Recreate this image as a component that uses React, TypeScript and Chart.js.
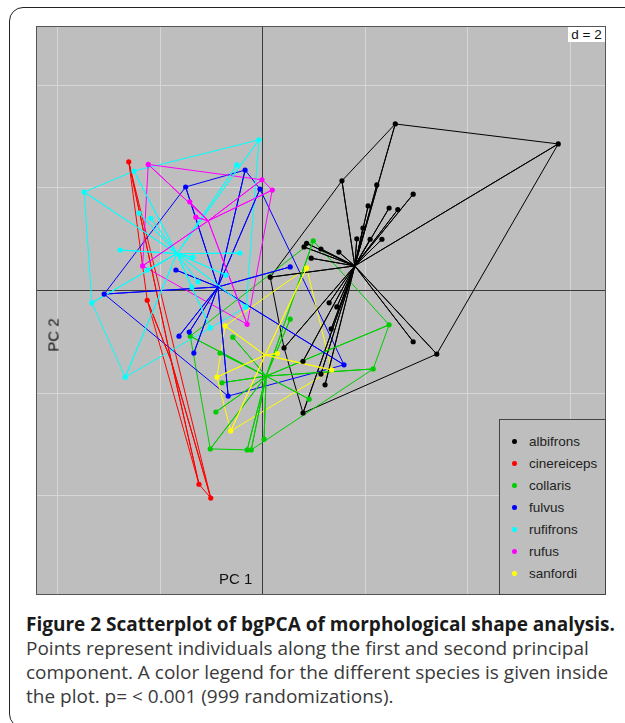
import React, { useEffect, useRef } from "react";
import { Chart, registerables } from "chart.js";

Chart.register(...registerables);

// ---- Data (PC1, PC2 scores) ----
const species = ["albifrons", "cinereiceps", "collaris", "fulvus", "rufifrons", "rufus", "sanfordi"];
const speciesColors = ["#000000", "#ff0000", "#00cd00", "#0000ff", "#00ffff", "#ff00ff", "#ffff00"];

const albifronsX = [2.60, 5.78, 1.56, 2.24, 2.95, 2.07, 2.48, 2.65, 1.97, 1.85, 2.11, 2.34, 1.50, 1.15, 0.87, 0.82, 0.96, 0.16, 1.31, 1.46, 1.35, 2.95, 3.41, 0.43, 0.80, 1.15, 1.23, 0.80];
const albifronsY = [3.24, 2.85, 2.13, 2.05, 1.87, 1.64, 1.60, 1.57, 1.21, 1.00, 0.99, 0.99, 0.74, 0.80, 0.91, 0.84, 0.62, 0.25, -0.25, -0.33, -0.76, -1.01, -1.25, -1.13, -1.39, -1.64, -1.85, -2.40];

const cinereicepsX = [-2.60, -2.24, -1.23, -1.00];
const cinereicepsY = [2.50, -0.20, -3.79, -4.06];

const collarisX = [1.00, 0.55, -0.57, -1.40, -0.82, -0.78, -0.90, -1.01, -0.29, -0.21, 0.04, 0.92, 2.17, 2.48];
const collarisY = [0.96, -0.57, -0.92, -0.90, -1.23, -1.81, -2.38, -3.10, -3.12, -3.12, -2.91, -2.13, -1.54, -0.68];

const fulvusX = [-0.33, -1.49, -0.04, -1.68, 0.55, -3.08, -1.62, -1.42, -1.33, -0.66, 1.60];
const fulvusY = [2.34, 2.01, 1.97, 0.39, 0.45, -0.08, -0.90, -0.82, -1.23, -2.07, -1.46];

const rufifronsX = [-0.06, -0.49, -2.50, -3.47, -2.40, -2.17, -2.77, -1.35, -0.43, -0.70, -1.25, -1.37, -2.24, -3.32, -2.67, -1.01, -0.31];
const rufifronsY = [2.93, 2.44, 2.32, 1.91, 1.50, 1.40, 0.78, 0.64, 0.72, 0.29, 0.16, 0.06, 0.39, -0.25, -1.70, -0.74, -0.33];

const rufusX = [-2.22, 0.00, 0.20, -1.41, -1.29, -2.33, -0.29];
const rufusY = [2.45, 2.15, 1.95, 1.72, 1.42, 0.47, -0.67];

const sanfordiX = [0.87, -0.72, 0.30, -0.88, -0.61, 1.36];
const sanfordiY = [0.43, -0.70, -1.24, -1.70, -2.75, -1.56];

// class centroids (star centres)
const centroidX = [1.81, -1.77, 0.08, -0.86, -1.66, -1.05, 0.06];
const centroidY = [0.47, -1.39, -1.68, 0.06, 0.71, 1.35, -1.27];

// grid (d = 2)
const gridX = [-4, -2, 2, 4, 6];
const gridY = [-4, -2, 2, 4];
const xMin = -4.41;
const xMax = 6.712;
const yMin = -5.951;
const yMax = 5.151;

const speciesX = [albifronsX, cinereicepsX, collarisX, fulvusX, rufifronsX, rufusX, sanfordiX];
const speciesY = [albifronsY, cinereicepsY, collarisY, fulvusY, rufifronsY, rufusY, sanfordiY];

type P = { x: number; y: number };

function convexHull(pts: P[]): P[] {
  const p = pts.slice().sort((a, b) => a.x - b.x || a.y - b.y);
  const cross = (o: P, a: P, b: P) => (a.x - o.x) * (b.y - o.y) - (a.y - o.y) * (b.x - o.x);
  const lower: P[] = [];
  for (const q of p) {
    while (lower.length >= 2 && cross(lower[lower.length - 2], lower[lower.length - 1], q) <= 0) lower.pop();
    lower.push(q);
  }
  const upper: P[] = [];
  for (let i = p.length - 1; i >= 0; i--) {
    const q = p[i];
    while (upper.length >= 2 && cross(upper[upper.length - 2], upper[upper.length - 1], q) <= 0) upper.pop();
    upper.push(q);
  }
  upper.pop();
  lower.pop();
  const h = lower.concat(upper);
  h.push(h[0]);
  return h;
}

const plotBg = "#bebebe";
const gridColor = "#d6d6d6";

const backgroundPlugin = {
  id: "adeBackground",
  beforeDatasetsDraw(chart: any) {
    const { ctx, chartArea, scales } = chart;
    const { left, right, top, bottom } = chartArea;
    ctx.save();
    ctx.fillStyle = plotBg;
    ctx.fillRect(left, top, right - left, bottom - top);
    ctx.lineWidth = 1;
    ctx.strokeStyle = gridColor;
    gridX.forEach((v) => {
      const px = Math.round(scales.x.getPixelForValue(v)) + 0.5;
      ctx.beginPath();
      ctx.moveTo(px, top);
      ctx.lineTo(px, bottom);
      ctx.stroke();
    });
    gridY.forEach((v) => {
      const py = Math.round(scales.y.getPixelForValue(v)) + 0.5;
      ctx.beginPath();
      ctx.moveTo(left, py);
      ctx.lineTo(right, py);
      ctx.stroke();
    });
    ctx.strokeStyle = "#3a3a3a";
    const x0 = Math.round(scales.x.getPixelForValue(0)) + 0.5;
    const y0 = Math.round(scales.y.getPixelForValue(0)) + 0.5;
    ctx.beginPath();
    ctx.moveTo(x0, top);
    ctx.lineTo(x0, bottom);
    ctx.moveTo(left, y0);
    ctx.lineTo(right, y0);
    ctx.stroke();
    ctx.strokeStyle = "#555555";
    ctx.strokeRect(left + 0.5, top + 0.5, right - left - 1, bottom - top - 1);
    ctx.restore();
  },
};

export default function App() {
  const ref = useRef<HTMLCanvasElement>(null);

  useEffect(() => {
    if (!ref.current) return;
    const datasets: any[] = [];
    species.forEach((name, i) => {
      const pts: P[] = speciesX[i].map((x, k) => ({ x, y: speciesY[i][k] }));
      const c = { x: centroidX[i], y: centroidY[i] };
      const star: P[] = [c];
      pts.forEach((p) => {
        star.push(p);
        star.push(c);
      });
      const color = speciesColors[i];
      datasets.push({
        label: name + " hull",
        data: convexHull(pts),
        showLine: true,
        borderColor: color,
        borderWidth: 1,
        pointRadius: 0,
        fill: false,
        tension: 0,
        order: 30 - i,
      });
      datasets.push({
        label: name + " star",
        data: star,
        showLine: true,
        borderColor: color,
        borderWidth: 1,
        pointRadius: 0,
        fill: false,
        tension: 0,
        order: 20 - i,
      });
      datasets.push({
        label: name,
        data: pts,
        showLine: false,
        backgroundColor: color,
        borderColor: color,
        borderWidth: 0,
        pointRadius: 2.6,
        order: 10 - i,
      });
    });

    const chart = new Chart(ref.current, {
      type: "scatter",
      data: { datasets },
      options: {
        responsive: false,
        maintainAspectRatio: false,
        animation: false,
        devicePixelRatio: 1,
        events: [],
        layout: { padding: { left: 36, top: 26, right: 19, bottom: 15 } },
        scales: {
          x: { type: "linear", min: xMin, max: xMax, display: false },
          y: { type: "linear", min: yMin, max: yMax, display: false },
        },
        plugins: {
          legend: { display: false },
          tooltip: { enabled: false },
          title: { display: false },
        },
      },
      plugins: [backgroundPlugin],
    });
    return () => chart.destroy();
  }, []);

  const sans = "'Liberation Sans', Arial, Helvetica, sans-serif";
  const capFont = "'Open Sans', 'Noto Sans', sans-serif";

  return (
    <div style={{ position: "fixed", left: 0, top: 0, width: 625, height: 723, overflow: "hidden", background: "#ffffff" }}>
      <div
        style={{
          position: "absolute",
          left: 9,
          top: 7,
          width: 700,
          height: 721,
          boxSizing: "border-box",
          border: "1.5px solid #222",
          borderRadius: 14,
        }}
      />
      <canvas ref={ref} width={625} height={610} style={{ position: "absolute", left: 0, top: 0, width: 625, height: 610 }} />

      {/* d = 2 label */}
      <div
        style={{
          position: "absolute",
          left: 568,
          top: 27,
          width: 37,
          height: 15,
          background: "#ffffff",
          fontFamily: sans,
          fontSize: 13.5,
          lineHeight: "15px",
          textAlign: "center",
          color: "#111",
        }}
      >
        d = 2
      </div>

      {/* axis names */}
      <div style={{ position: "absolute", left: 219, top: 571, fontFamily: sans, fontSize: 15, lineHeight: "15px", color: "#111", whiteSpace: "nowrap" }}>
        PC 1
      </div>
      <div
        style={{
          position: "absolute",
          left: 53,
          top: 335,
          transform: "translate(-50%, -50%) rotate(-90deg)",
          fontFamily: sans,
          fontSize: 15,
          lineHeight: "15px",
          color: "#111",
          whiteSpace: "nowrap",
        }}
      >
        PC 2
      </div>

      {/* legend */}
      <div
        style={{
          position: "absolute",
          left: 499,
          top: 419,
          width: 107,
          height: 176,
          boxSizing: "border-box",
          border: "1px solid #444",
          background: plotBg,
        }}
      />
      {species.map((name, i) => (
        <React.Fragment key={name}>
          <div
            style={{
              position: "absolute",
              left: 512,
              top: 439.4 + 22 * i,
              width: 4.6,
              height: 4.6,
              borderRadius: "50%",
              background: speciesColors[i],
            }}
          />
          <div
            style={{
              position: "absolute",
              left: 529,
              top: 430.7 + 22 * i,
              height: 22,
              fontFamily: sans,
              fontSize: 13.5,
              lineHeight: "22px",
              color: "#222",
              whiteSpace: "nowrap",
            }}
          >
            {name}
          </div>
        </React.Fragment>
      ))}

      {/* caption */}
      <div style={{ position: "absolute", left: 26, top: 611.5, fontFamily: capFont, fontSize: 19, lineHeight: "24px", color: "#3a3a3a" }}>
        <div style={{ fontWeight: 700, color: "#1a1a1a", whiteSpace: "nowrap" }}>
          Figure 2 Scatterplot of bgPCA of morphological shape analysis.
        </div>
        <div style={{ whiteSpace: "nowrap" }}>Points represent individuals along the first and second principal</div>
        <div style={{ whiteSpace: "nowrap" }}>component. A color legend for the different species is given inside</div>
        <div style={{ whiteSpace: "nowrap" }}>the plot. p= &lt; 0.001 (999 randomizations).</div>
      </div>
    </div>
  );
}
